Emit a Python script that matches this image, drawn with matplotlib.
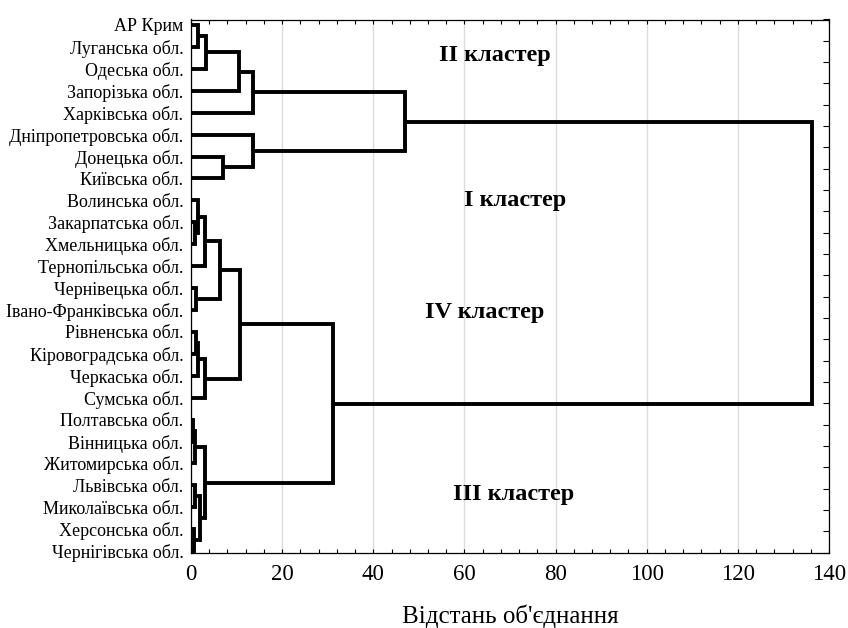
import matplotlib.pyplot as plt
import numpy as np
from matplotlib.ticker import MultipleLocator

plt.rcParams['font.family'] = ['Liberation Serif', 'DejaVu Serif']

# leaves of the tree, top to bottom
regions = ["АР Крим", "Луганська обл.", "Одеська обл.", "Запорізька обл.",
           "Харківська обл.", "Дніпропетровська обл.", "Донецька обл.", "Київська обл.",
           "Волинська обл.", "Закарпатська обл.", "Хмельницька обл.", "Тернопільська обл.",
           "Чернівецька обл.", "Івано-Франківська обл.", "Рівненська обл.",
           "Кіровоградська обл.", "Черкаська обл.", "Сумська обл.", "Полтавська обл.",
           "Вінницька обл.", "Житомирська обл.", "Львівська обл.", "Миколаївська обл.",
           "Херсонська обл.", "Чернігівська обл."]

# merges: child a, child b (leaf index or 25 + merge number), linkage distance
merge_a = [0, 25, 26, 27, 6, 5, 28, 9, 8, 33, 12, 34, 14, 37, 38, 36, 18, 41, 21, 23, 43, 42, 40, 31]
merge_b = [1, 2, 3, 4, 7, 29, 30, 10, 32, 11, 13, 35, 15, 16, 17, 39, 19, 20, 22, 24, 44, 45, 46, 47]
merge_h = [1.6, 3.4, 10.6, 13.5, 7.0, 13.5, 47.0, 0.8, 1.6, 3.1, 1.1, 6.4, 1.0, 1.5, 3.1,
           10.75, 0.5, 0.9, 0.8, 0.6, 2.0, 3.1, 31.2, 136.3]

cluster_names = ["II кластер", "I кластер", "IV кластер", "III кластер"]
cluster_x = [66.7, 71.1, 64.5, 70.7]
cluster_y = [1.4, 8.0, 13.1, 21.4]

n = len(regions)
pos = {i: float(i) for i in range(n)}
hgt = {i: 0.0 for i in range(n)}

fig = plt.figure(figsize=(8.48, 6.28), dpi=100)
ax = fig.add_axes([191 / 848, 1 - 552.7 / 628, 638 / 848, 533.2 / 628])

for j, (a, b, h) in enumerate(zip(merge_a, merge_b, merge_h)):
    ya, yb = pos[a], pos[b]
    ax.plot([hgt[a], h, h, hgt[b]], [ya, ya, yb, yb], color='black', lw=2.8,
            solid_joinstyle='miter', solid_capstyle='butt', clip_on=False, zorder=3)
    pos[n + j] = (ya + yb) / 2
    hgt[n + j] = h

for name, x, y in zip(cluster_names, cluster_x, cluster_y):
    ax.text(x, y, name, fontsize=17.5, fontweight='bold', ha='center', va='center')

ax.set_xlim(0, 140)
top, bottom = -0.25, 24.07
ax.set_ylim(bottom, top)

ax.xaxis.set_major_locator(MultipleLocator(20))
ax.xaxis.set_minor_locator(MultipleLocator(4))
ax.tick_params(axis='x', which='both', direction='in', top=True, bottom=True,
               length=3, width=0.8, labelsize=16.5, pad=8)
ax.grid(axis='x', which='major', color='#dcdcdc', lw=1, zorder=0)

ax.set_yticks(range(n))
ax.set_yticklabels(regions, fontsize=13)
ax.tick_params(axis='y', which='major', left=False, right=False, pad=2)
ax.set_yticks(np.linspace(top, bottom, 26), minor=True)
ax.tick_params(axis='y', which='minor', direction='in', left=False, right=True,
               length=4, width=0.8)

for s in ax.spines.values():
    s.set_linewidth(0.9)

ax.set_xlabel("Відстань об'єднання", fontsize=18, labelpad=14)

fig.savefig("out.png", dpi=100)
